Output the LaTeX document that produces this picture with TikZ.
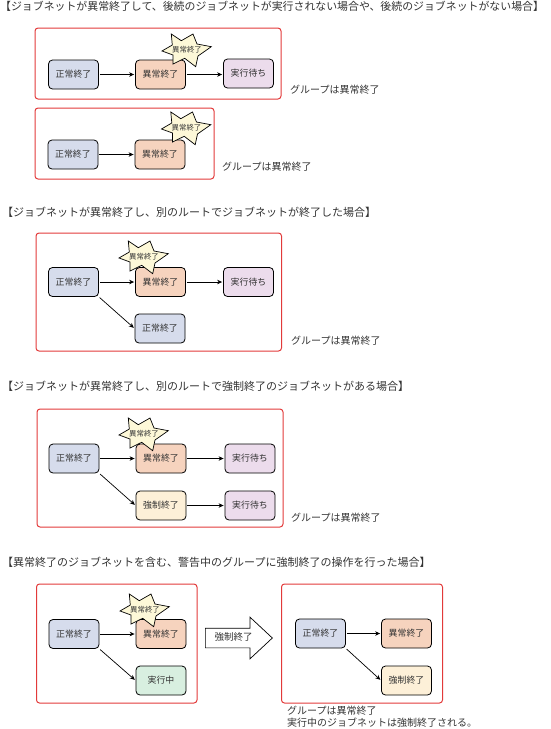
\documentclass[tikz,border=0pt]{standalone}
\usepackage{fontspec}
\setmainfont{Noto Sans CJK JP}
\usepackage{xcolor}
\usepackage{tikz}
\usetikzlibrary{arrows.meta,shapes.arrows}
\definecolor{normalfill}{HTML}{D6DCEC}
\definecolor{abendfill}{HTML}{F6D3BE}
\definecolor{waitfill}{HTML}{ECDCEC}
\definecolor{runfill}{HTML}{D8EFE0}
\definecolor{killfill}{HTML}{FDF0D8}
\definecolor{burstfill}{HTML}{FDF8D8}
\definecolor{framered}{HTML}{E23A3A}
\definecolor{inktext}{HTML}{333333}
% irregular star with its label on top
\newcommand{\burst}[2]{%
\draw[burstline] (#2) ++(-15.7,-16) -- ++(10,6.7) -- ++(11.7,-6.7) -- ++(4,10) -- ++(14.3,2.7) -- ++(-13.3,9.3) -- ++(-2.3,10.7) -- ++(-11,-8.4) -- ++(-11.7,5.7) -- ++(0,-9) -- ++(-11,-4) -- ++(10.3,-6) -- cycle;
\node[burstlabel] (#1) at (#2) {異常終了};}
\begin{document}
\begin{tikzpicture}[x=1pt,y=-1pt,every node/.style={text=inktext},
jobbox/.style={draw=black,line width=0.8pt,rounded corners=4pt,minimum width=50pt,minimum height=29pt,inner sep=0pt,font=\fontsize{8.9pt}{10pt}\selectfont},
groupframe/.style={draw=framered,line width=1pt,rounded corners=3pt},
heading/.style={anchor=west,inner sep=0pt,font=\fontsize{11pt}{12pt}\selectfont},
caption/.style={anchor=west,inner sep=0pt,align=left,font=\fontsize{10pt}{12pt}\selectfont},
burstline/.style={draw=black,line width=0.7pt,fill=burstfill},
burstlabel/.style={inner sep=0pt,font=\fontsize{7.4pt}{8pt}\selectfont},
flow/.style={-{Stealth[length=5pt,width=4.5pt]},line width=0.7pt,shorten >=1pt,shorten <=1pt}]
\useasboundingbox (0,0) rectangle (550,729);
\node[heading,font=\fontsize{10.9pt}{12pt}\selectfont] (h1) at (0,6.5) {【ジョブネットが異常終了して、後続のジョブネットが実行されない場合や、後続のジョブネットがない場合】};
\draw[groupframe] (35,28) rectangle (281,99);
\node[jobbox,fill=normalfill] (a1) at (73.5,74.5) {正常終了};
\node[jobbox,fill=abendfill] (a2) at (160.5,74.5) {異常終了};
\node[jobbox,fill=waitfill] (a3) at (248.5,73.5) {実行待ち};
\draw[flow] (a1) -- (a2);
\draw[flow] (a2.east) -- (a2.east -| a3.west);
\burst{s1}{187,50}
\node[caption] (c1) at (290,90) {グループは異常終了};
\draw[groupframe] (35,108) rectangle (214,179);
\node[jobbox,fill=normalfill] (b1) at (73,154.5) {正常終了};
\node[jobbox,fill=abendfill] (b2) at (160,154.5) {異常終了};
\draw[flow] (b1) -- (b2);
\burst{s2}{186.5,128}
\node[caption] (c2) at (222,167) {グループは異常終了};
\node[heading] (h2) at (2,212.5) {【ジョブネットが異常終了し、別のルートでジョブネットが終了した場合】};
\draw[groupframe] (36,233) rectangle (281.5,351);
\node[jobbox,fill=normalfill] (d1) at (73.5,282) {正常終了};
\node[jobbox,fill=abendfill] (d2) at (160.5,282) {異常終了};
\node[jobbox,fill=waitfill] (d3) at (248.5,282) {実行待ち};
\node[jobbox,fill=normalfill] (d4) at (160,328.5) {正常終了};
\draw[flow] (d1) -- (d2);
\draw[flow] (d2) -- (d3);
\draw[flow] (d1.south east) -- (d4.west);
\burst{s3}{144,257}
\node[caption] (c3) at (291,341) {グループは異常終了};
\node[heading] (h3) at (2,386.5) {【ジョブネットが異常終了し、別のルートで強制終了のジョブネットがある場合】};
\draw[groupframe] (37,409) rectangle (283,527);
\node[jobbox,fill=normalfill] (e1) at (74,458.5) {正常終了};
\node[jobbox,fill=abendfill] (e2) at (161,458.5) {異常終了};
\node[jobbox,fill=waitfill] (e3) at (250,458.5) {実行待ち};
\node[jobbox,fill=killfill] (e4) at (161,505.5) {強制終了};
\node[jobbox,fill=waitfill] (e5) at (250,505.5) {実行待ち};
\draw[flow] (e1) -- (e2);
\draw[flow] (e2) -- (e3);
\draw[flow] (e1.south east) -- (e4.west);
\draw[flow] (e4) -- (e5);
\burst{s4}{144,434}
\node[caption] (c4) at (291,518) {グループは異常終了};
\node[heading] (h4) at (2,562.5) {【異常終了のジョブネットを含む、警告中のグループに強制終了の操作を行った場合】};
\draw[groupframe] (36.5,584) rectangle (197,703);
\node[jobbox,fill=normalfill] (f1) at (74,634) {正常終了};
\node[jobbox,fill=abendfill] (f2) at (161,634) {異常終了};
\node[jobbox,fill=runfill] (f3) at (161,680.5) {実行中};
\draw[flow] (f1) -- (f2);
\draw[flow] (f1.south east) -- (f3.west);
\burst{s5}{145,610}
\node[single arrow,draw=black,line width=0.7pt,fill=white,anchor=tail,inner xsep=0pt,inner ysep=0pt,text height=12pt,text depth=7pt,text width=45pt,minimum height=67pt,align=center,single arrow tip angle=86,single arrow head extend=11pt,single arrow head indent=0pt,font=\fontsize{9.5pt}{10pt}\selectfont] (k1) at (205,638) {強制終了};
\draw[groupframe] (281.5,584) rectangle (442.5,703);
\node[jobbox,fill=normalfill] (g1) at (320.5,633.5) {正常終了};
\node[jobbox,fill=abendfill] (g2) at (406.5,633.5) {異常終了};
\node[jobbox,fill=killfill] (g3) at (406.5,680.5) {強制終了};
\draw[flow] (g1) -- (g2);
\draw[flow] (g1.south east) -- (g3.west);
\node[caption,anchor=north west] (c5) at (287,706) {グループは異常終了\\実行中のジョブネットは強制終了される。};
\end{tikzpicture}
\end{document}
